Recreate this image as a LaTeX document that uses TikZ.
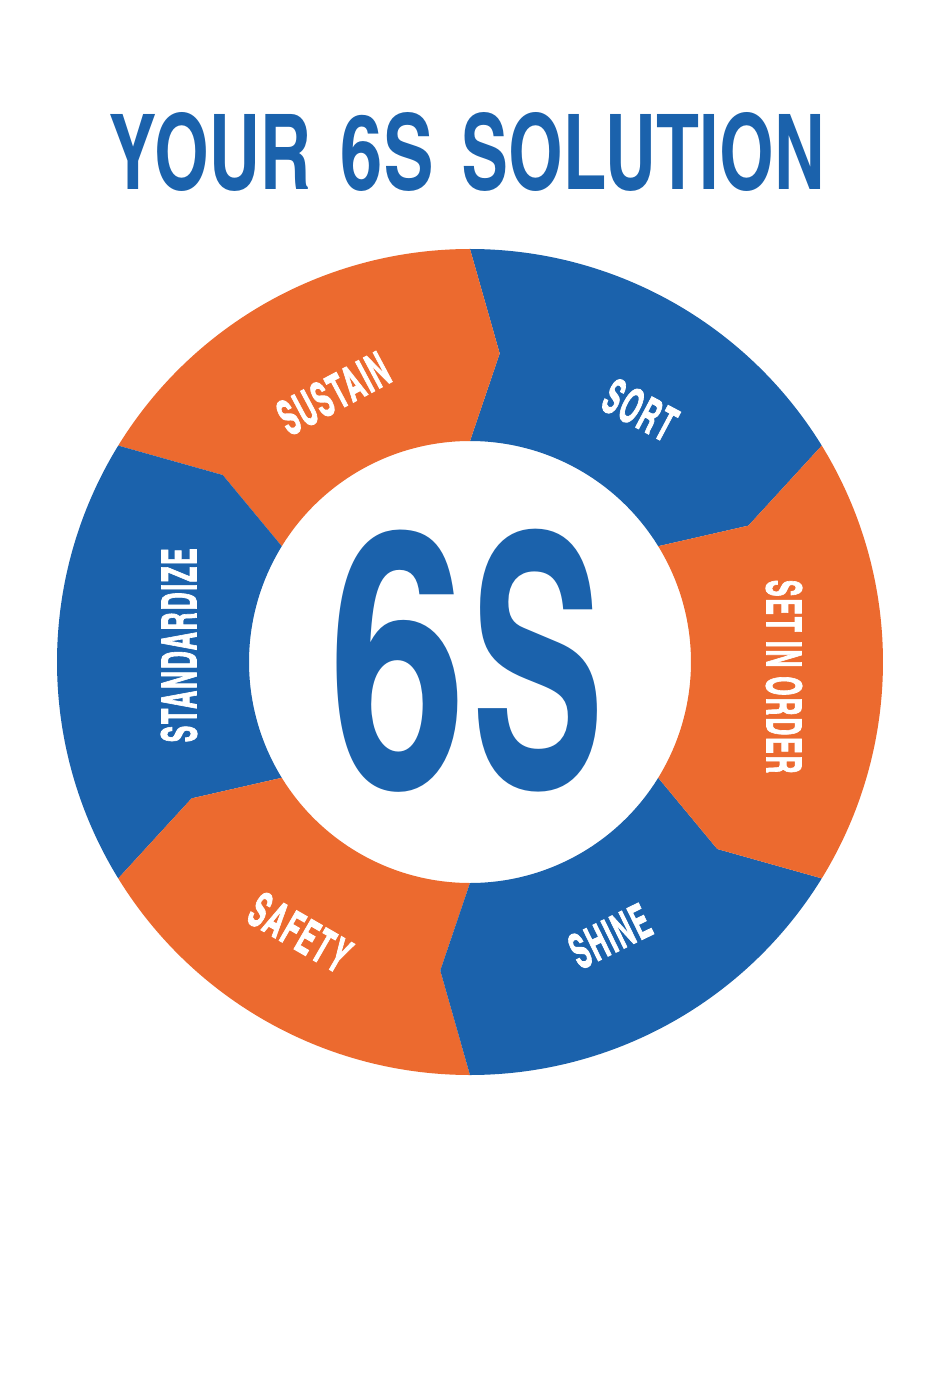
\documentclass[tikz,border=0pt]{standalone}
\usepackage{fontspec}
\usepackage{graphicx}
\newfontfamily\cnfont{texgyreheroscn-bold.otf}
\newfontfamily\labcn{texgyreheroscn-bold.otf}[LetterSpace=6, FakeBold=2]
\definecolor{sixblue}{RGB}{27,98,172}
\definecolor{sixorange}{RGB}{236,106,47}
\newlength\labw
\newlength\labh
\newcommand\labfont{\labcn\fontsize{48}{48}\selectfont}
\newcommand\sixseg[3]{%
  \fill[#1] (#2:221pt) arc[start angle=#2, end angle=#3, radius=221pt]
    -- ({#3-5.5}:310pt) -- (#3:413pt)
    arc[start angle=#3, end angle=#2, radius=413pt]
    -- ({#2-5.5}:310pt) -- cycle;}
\newcommand\lab[1]{\scalebox{\labsx}[\labsy]{\labfont #1}}
\tikzset{
  lbl/.style={inner sep=0pt, text=white},
  ttl/.style={inner sep=0pt, text=sixblue},
}
\begin{document}
\settowidth\labw{\labfont STANDARDIZE}%
\settoheight\labh{\labfont STANDARDIZE}%
\pgfmathsetmacro\labsx{194/\labw}%
\pgfmathsetmacro\labsy{35.5/\labh}%
\begin{tikzpicture}[x=1pt,y=1pt]
\fill[white] (-470,-736) rectangle (470,662);
\useasboundingbox (-470,-736) rectangle (470,662);
% ring segments
\sixseg{sixblue}{31.6}{90}
\sixseg{sixorange}{90}{148.4}
\sixseg{sixblue}{148.4}{211.6}
\sixseg{sixorange}{-148.4}{-90}
\sixseg{sixblue}{-90}{-31.6}
\sixseg{sixorange}{-31.6}{31.6}
% title
\node[ttl] (tyour) at (-259.5,510.5) {\resizebox{201pt}{77pt}{\cnfont YOUR}};
\node[ttl] (tsix) at (-82.5,510.5) {\resizebox{93pt}{77pt}{\cnfont 6S}};
\node[ttl] (tsol) at (173.5,510.5) {\resizebox{363pt}{77pt}{\cnfont SOLUTION}};
% centre
\node[ttl] (six) at (-72,1) {\resizebox*{137pt}{262pt}{\cnfont 6}};
\node[ttl] (ess) at (67.5,1) {\resizebox*{134.5pt}{262pt}{\cnfont S}};
% labels
\node[lbl, rotate=-28] (sort) at (170,252) {\lab{SORT}};
\node[lbl, rotate=28] (sustain) at (-136.5,268.7) {\lab{SUSTAIN}};
\node[lbl, rotate=-90] (setinorder) at (314,-14.7) {\lab{SET IN ORDER}};
\node[lbl, rotate=90] (standardize) at (-291,16.7) {\lab{STANDARDIZE}};
\node[lbl, rotate=26] (shine) at (140,-274) {\lab{SHINE}};
\node[lbl, rotate=-30] (safety) at (-170,-270.5) {\lab{SAFETY}};
\end{tikzpicture}
\end{document}
